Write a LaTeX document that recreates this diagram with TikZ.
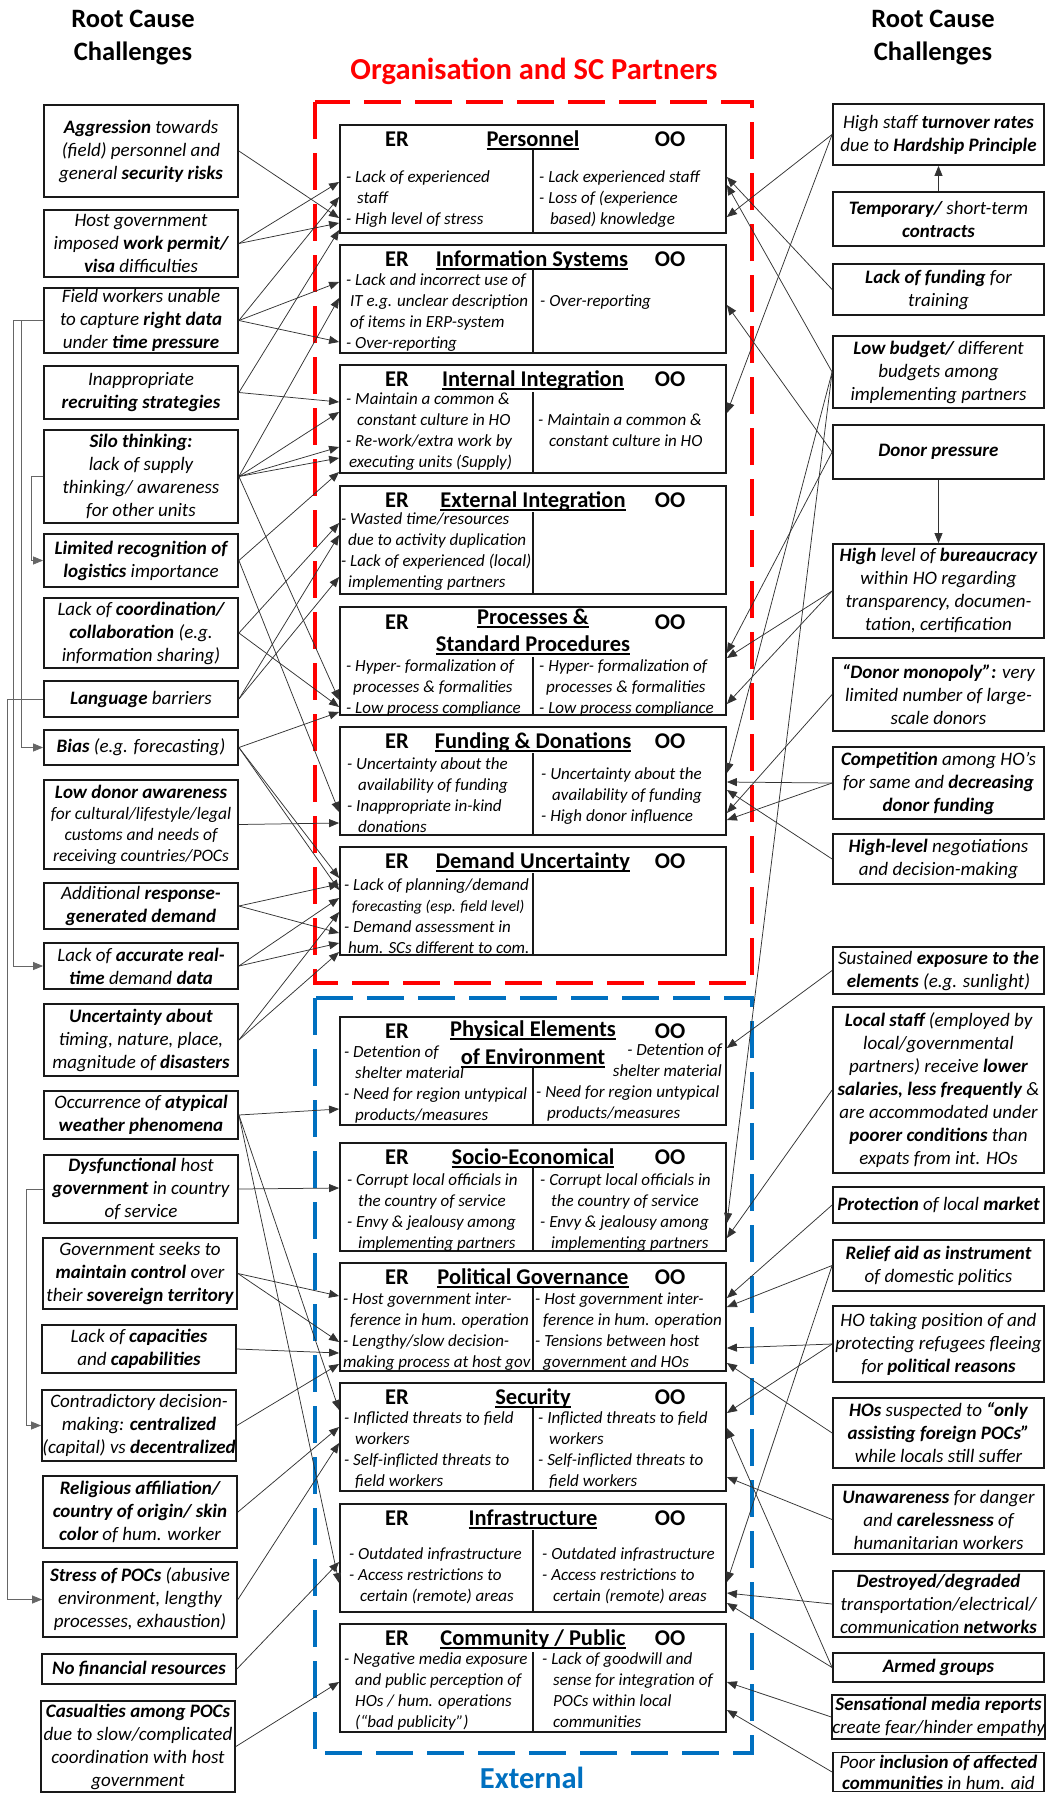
\documentclass[tikz,border=0pt]{standalone}
\usepackage{fontspec}
\setmainfont{Carlito}
\usetikzlibrary{arrows.meta}
\definecolor{orgred}{RGB}{255,0,0}
\definecolor{extblue}{RGB}{0,112,192}
% underlined heading with a fixed rule position
\newcommand\hdul[1]{\setbox0\hbox{#1}\rlap{\rule[-3.5pt]{\wd0}{1.6pt}}\box0}
\newcommand\ind{\hspace*{11pt}}
\newcommand\fs{\rule{0pt}{15pt}}
\begin{document}
\begin{tikzpicture}[x=1pt,y=-1pt,
  every node/.style={inner sep=0pt},
  rc/.style={draw=black!90, line width=1.8pt, align=center, font=\fontsize{19}{23}\selectfont\itshape},
  lb/.style={rc, minimum width=194pt},
  rb/.style={rc, minimum width=211pt},
  cbox/.style={draw=black!90, line width=1.8pt, minimum width=386pt, minimum height=108pt},
  hd/.style={font=\fontsize{22.5}{27}\selectfont\bfseries, anchor=base},
  ct/.style={font=\fontsize{17}{21}\selectfont\itshape, align=left, anchor=north west},
  divline/.style={draw=black!90, line width=1.1pt},
  arr/.style={draw=black!80, line width=0.75pt, -{Triangle[length=10pt,width=8pt]}},
  tree/.style={arr, draw=black!60},
  ttl/.style={font=\fontsize{26.5}{32}\selectfont\bfseries, anchor=base},
  zone/.style={line width=4pt, dash pattern=on 37pt off 14pt},
]
\useasboundingbox (0,0) rectangle (1048,1793);

% ---------- headings ----------
\node[ttl] (lt1) at (133,28) {Root Cause};
\node[ttl] (lt2) at (133,60) {Challenges};
\node[ttl] (rt1) at (933,28) {Root Cause};
\node[ttl] (rt2) at (933,60) {Challenges};
\node[ttl, font=\fontsize{30.5}{36}\selectfont\bfseries, text=orgred] (orgT) at (534,80) {Organisation and SC Partners};
\node[ttl, font=\fontsize{30.5}{36}\selectfont\bfseries, text=extblue] (extT) at (532,1788) {External};

% ---------- dashed zones ----------
\draw[zone, orgred] (315,102) rectangle (752,983);
\draw[zone, extblue] (315,998) rectangle (752,1753);

% ---------- central challenge boxes ----------
\node[cbox] (pers) at (533,179) {};
\node[cbox] (infos) at (533,299) {};
\node[cbox] (intint) at (533,419) {};
\node[cbox] (extint) at (533,540) {};
\node[cbox] (proc) at (533,661) {};
\node[cbox] (fund) at (533,781) {};
\node[cbox] (dem) at (533,901) {};
\node[cbox] (phys) at (533,1071) {};
\node[cbox] (socio) at (533,1197) {};
\node[cbox] (polit) at (533,1317) {};
\node[cbox] (secur) at (533,1437) {};
\node[cbox] (infra) at (533,1558) {};
\node[cbox] (commun) at (533,1678) {};

% column dividers
\draw[divline] (pers.south) -- (pers.south |- 0,149);
\draw[divline] (infos.south) -- (infos.south |- 0,270);
\draw[divline] (intint.south) -- (intint.south |- 0,392);
\draw[divline] (extint.south) -- (extint.south |- 0,512);
\draw[divline] (proc.south) -- (proc.south |- 0,657);
\draw[divline] (fund.south) -- (fund.south |- 0,753);
\draw[divline] (dem.south) -- (dem.south |- 0,873);
\draw[divline] (phys.south) -- (phys.south |- 0,1067);
\draw[divline] (socio.south) -- (socio.south |- 0,1168);
\draw[divline] (polit.south) -- (polit.south |- 0,1288);
\draw[divline] (secur.south) -- (secur.south |- 0,1408);
\draw[divline] (infra.south) -- (infra.south |- 0,1530);
\draw[divline] (commun.south) -- (commun.south |- 0,1652);

% box headings
\node[hd] (persER) at (397,146) {ER};
\node[hd] (persOO) at (670,146) {OO};
\node[hd] (persT) at (533,146) {\hdul{Personnel}};
\node[hd] (infosER) at (397,266) {ER};
\node[hd] (infosOO) at (670,266) {OO};
\node[hd] (infosT) at (532,266) {\hdul{Information Systems}};
\node[hd] (intintER) at (397,386) {ER};
\node[hd] (intintOO) at (670,386) {OO};
\node[hd] (intintT) at (533,386) {\hdul{Internal Integration}};
\node[hd] (extintER) at (397,507) {ER};
\node[hd] (extintOO) at (670,507) {OO};
\node[hd] (extintT) at (533,507) {\hdul{External Integration}};
\node[hd] (procER) at (397,629) {ER};
\node[hd] (procOO) at (670,629) {OO};
\node[hd] (procT1) at (533,624) {\hdul{Processes \&}};
\node[hd] (procT2) at (533,651) {\hdul{Standard Procedures}};
\node[hd] (fundER) at (397,748) {ER};
\node[hd] (fundOO) at (670,748) {OO};
\node[hd] (fundT) at (533,748) {\hdul{Funding \& Donations}};
\node[hd] (demER) at (397,868) {ER};
\node[hd] (demOO) at (670,868) {OO};
\node[hd] (demT) at (533,868) {\hdul{Demand Uncertainty}};
\node[hd] (physER) at (397,1038) {ER};
\node[hd] (physOO) at (670,1038) {OO};
\node[hd] (physT1) at (533,1036) {\hdul{Physical Elements}};
\node[hd] (physT2) at (533,1064) {\hdul{of Environment}};
\node[hd] (socioER) at (397,1164) {ER};
\node[hd] (socioOO) at (670,1164) {OO};
\node[hd] (socioT) at (533,1164) {\hdul{Socio-Economical}};
\node[hd] (politER) at (397,1284) {ER};
\node[hd] (politOO) at (670,1284) {OO};
\node[hd] (politT) at (533,1284) {\hdul{Political Governance}};
\node[hd] (securER) at (397,1404) {ER};
\node[hd] (securOO) at (670,1404) {OO};
\node[hd] (securT) at (533,1404) {\hdul{Security}};
\node[hd] (infraER) at (397,1525) {ER};
\node[hd] (infraOO) at (670,1525) {OO};
\node[hd] (infraT) at (533,1525) {\hdul{Infrastructure}};
\node[hd] (communER) at (397,1645) {ER};
\node[hd] (communOO) at (670,1645) {OO};
\node[hd] (communT) at (533,1645) {\hdul{Community / Public}};

% box contents
\node[ct] (persL) at (346,167) {\fs- Lack of experienced\\\ind staff\\- High level of stress};
\node[ct] (persR) at (539,167) {\fs- Lack experienced staff\\- Loss of (experience\\\ind based) knowledge};
\node[ct] (infosL) at (346,270) {\fs- Lack and incorrect use of\\\hspace*{4pt}IT e.g. unclear description\\\hspace*{4pt}of items in ERP-system\\- Over-reporting};
\node[ct] (infosR) at (540,291) {\fs- Over-reporting};
\node[ct] (intintL) at (346,389) {\fs- Maintain a common \&\\\ind constant culture in HO\\- Re-work/extra work by\\\hspace*{3pt}executing units (Supply)};
\node[ct] (intintR) at (538,410) {\fs- Maintain a common \&\\\ind constant culture in HO};
\node[ct] (extintL) at (341,509) {\fs- Wasted time/resources\\\hspace*{7pt}due to activity duplication\\- Lack of experienced (local)\\\hspace*{7pt}implementing partners};
\node[ct] (procL) at (346,656) {\fs- Hyper- formalization of\\\hspace*{7pt}processes \& formalities\\- Low process compliance};
\node[ct] (procR) at (539,656) {\fs- Hyper- formalization of\\\hspace*{7pt}processes \& formalities\\- Low process compliance};
\node[ct] (fundL) at (347,754) {\fs- Uncertainty about the\\\ind availability of funding\\- Inappropriate in-kind\\\ind donations};
\node[ct] (fundR) at (541,764) {\fs- Uncertainty about the\\\ind availability of funding\\- High donor influence};
\node[ct] (demL) at (344,875) {\fs- Lack of planning/demand\\\hspace*{8pt}{\fontsize{15.5}{21}\selectfont forecasting (esp. field level)}\\- Demand assessment in\\\hspace*{4pt}hum. SCs different to com.};
\node[ct] (physL) at (344,1042) {\fs- Detention of\\\ind shelter material\\- Need for region untypical\\\ind products/measures};
\node[ct, anchor=north east, align=right] (physRa) at (722,1040) {\fs- Detention of\\shelter material};
\node[ct] (physRb) at (536,1082) {\fs- Need for region untypical\\\ind products/measures};
\node[ct] (socioL) at (347,1170) {\fs- Corrupt local officials in\\\ind the country of service\\- Envy \& jealousy among\\\ind implementing partners};
\node[ct] (socioR) at (540,1170) {\fs- Corrupt local officials in\\\ind the country of service\\- Envy \& jealousy among\\\ind implementing partners};
\node[ct] (politL) at (343,1289) {\fs- Host government inter-\\\hspace*{7pt}ference in hum. operation\\- Lengthy/slow decision-\\making process at host gov};
\node[ct] (politR) at (535,1289) {\fs- Host government inter-\\\hspace*{8pt}ference in hum. operation\\- Tensions between host\\\hspace*{8pt}government and HOs};
\node[ct] (securL) at (344,1408) {\fs- Inflicted threats to field\\\ind workers\\- Self-inflicted threats to\\\ind field workers};
\node[ct] (securR) at (538,1408) {\fs- Inflicted threats to field\\\ind workers\\- Self-inflicted threats to\\\ind field workers};
\node[ct] (infraL) at (349,1544) {\fs- Outdated infrastructure\\- Access restrictions to\\\ind certain (remote) areas};
\node[ct] (infraR) at (542,1544) {\fs- Outdated infrastructure\\- Access restrictions to\\\ind certain (remote) areas};
\node[ct] (communL) at (344,1649) {\fs- Negative media exposure\\\ind and public perception of\\\ind HOs / hum. operations\\\ind (“bad publicity”)};
\node[ct] (communR) at (542,1649) {\fs- Lack of goodwill and\\\ind sense for integration of\\\ind POCs within local\\\ind communities};

% ---------- left root causes ----------
\node[lb, minimum height=92pt] (agg) at (141,151) {\textbf{Aggression} towards\\(field) personnel and\\general \textbf{security risks}};
\node[lb, minimum height=67pt] (hostgov) at (141,243.5) {Host government\\imposed \textbf{work permit/}\\\textbf{visa} difficulties};
\node[lb, minimum height=65pt] (field) at (141,320.5) {Field workers unable\\to capture \textbf{right data}\\under \textbf{time pressure}};
\node[lb, minimum height=53pt] (inapp) at (141,392.5) {Inappropriate\\\textbf{recruiting strategies}};
\node[lb, minimum height=93pt] (silo) at (141,476.5) {\textbf{Silo thinking:}\\lack of supply\\thinking/ awareness\\for other units};
\node[lb, minimum height=53pt] (limited) at (141,560.5) {\textbf{Limited recognition of}\\\textbf{logistics} importance};
\node[lb, minimum height=70pt] (coord) at (141,633) {Lack of \textbf{coordination/}\\\textbf{collaboration} (e.g.\\information sharing)};
\node[lb, minimum height=36pt] (lang) at (141,699) {\textbf{Language} barriers};
\node[lb, minimum height=35pt] (bias) at (141,747.5) {\textbf{Bias} (e.g. forecasting)};
\node[lb, minimum height=89pt, font=\fontsize{17.5}{21}\selectfont\itshape] (lowdon) at (141,824.5) {{\fontsize{19}{21}\selectfont\textbf{Low donor awareness}}\\for cultural/lifestyle/legal\\customs and needs of\\receiving countries/POCs};
\node[lb, minimum height=46pt] (addl) at (141,906) {Additional \textbf{response-}\\\textbf{generated demand}};
\node[lb, minimum height=46pt] (accur) at (141,966) {Lack of \textbf{accurate real-}\\\textbf{time} demand \textbf{data}};
\node[lb, minimum height=72pt] (uncert) at (141,1040) {\textbf{Uncertainty about}\\timing, nature, place,\\magnitude of \textbf{disasters}};
\node[lb, minimum height=48pt] (occur) at (141,1115) {Occurrence of \textbf{atypical}\\\textbf{weather phenomena}};
\node[lb, minimum height=68pt] (dysf) at (141,1189) {\textbf{Dysfunctional} host\\\textbf{government} in country\\of service};
\node[lb, minimum height=71pt] (gov) at (140,1273.5) {Government seeks to\\\textbf{maintain control} over\\their \textbf{sovereign territory}};
\node[lb, minimum height=48pt] (capac) at (139,1349) {Lack of \textbf{capacities}\\and \textbf{capabilities}};
\node[lb, minimum height=71pt] (contra) at (139,1425.5) {Contradictory decision-\\making: \textbf{centralized}\\(capital) vs \textbf{decentralized}};
\node[lb, minimum height=72pt] (relig) at (140,1512) {\textbf{Religious affiliation/}\\\textbf{country of origin/ skin}\\\textbf{color} of hum. worker};
\node[lb, minimum height=75pt] (stress) at (140,1599.5) {\textbf{Stress of POCs} (abusive\\environment, lengthy\\processes, exhaustion)};
\node[lb, minimum height=30pt] (nofin) at (139,1669) {\textbf{No financial resources}};
\node[lb, minimum height=91pt] (casual) at (138,1746.5) {\textbf{Casualties among POCs}\\due to slow/complicated\\coordination with host\\government};

% ---------- right root causes ----------
\node[rb, minimum height=61pt] (turn) at (938.5,134.5) {High staff \textbf{turnover rates}\\due to \textbf{Hardship Principle}};
\node[rb, minimum height=54pt] (temp) at (938.5,219) {\textbf{Temporary/} short-term\\\textbf{contracts}};
\node[rb, minimum height=51pt] (lfund) at (938.5,289.5) {\textbf{Lack of funding} for\\training};
\node[rb, minimum height=72pt] (lowbud) at (938.5,372) {\textbf{Low budget/} different\\budgets among\\implementing partners};
\node[rb, minimum height=54pt] (donor) at (938.5,452) {\textbf{Donor pressure}};
\node[rb, minimum height=94pt] (bureau) at (938.5,591) {\textbf{High} level of \textbf{bureaucracy}\\within HO regarding\\transparency, documen-\\tation, certification};
\node[rb, minimum height=73pt] (monop) at (938.5,694.5) {\textbf{“Donor monopoly”:} very\\limited number of large-\\scale donors};
\node[rb, minimum height=72pt] (compet) at (938.5,783) {\textbf{Competition} among HO’s\\for same and \textbf{decreasing}\\\textbf{donor funding}};
\node[rb, minimum height=50pt] (hilev) at (938.5,859) {\textbf{High-level} negotiations\\and decision-making};
\node[rb, minimum height=47pt] (expo) at (938.5,970.5) {Sustained \textbf{exposure to the}\\\textbf{elements} (e.g. sunlight)};
\node[rb, minimum height=166pt] (local) at (938.5,1090) {\textbf{Local staff} (employed by\\local/governmental\\partners) receive \textbf{lower}\\\textbf{salaries, less frequently} \&\\are accommodated under\\\textbf{poorer conditions} than\\expats from int. HOs};
\node[rb, minimum height=36pt] (protect) at (938.5,1205) {\textbf{Protection} of local \textbf{market}};
\node[rb, minimum height=51pt] (relief) at (938.5,1265.5) {\textbf{Relief aid as instrument}\\of domestic politics};
\node[rb, minimum height=76pt] (refug) at (938.5,1344) {HO taking position of and\\protecting refugees fleeing\\for \textbf{political reasons}};
\node[rb, minimum height=70pt] (susp) at (938.5,1433) {\textbf{HOs} suspected to \textbf{“only}\\\textbf{assisting foreign POCs”}\\while locals still suffer};
\node[rb, minimum height=69pt] (unaware) at (938.5,1519.5) {\textbf{Unawareness} for danger\\and \textbf{carelessness} of\\humanitarian workers};
\node[rb, minimum height=66pt] (destroy) at (938.5,1604) {\textbf{Destroyed/degraded}\\transportation/electrical/\\communication \textbf{networks}};
\node[rb, minimum height=29pt] (armed) at (938.5,1667.5) {\textbf{Armed groups}};
\node[rb, minimum height=44pt] (media) at (938.5,1717) {\textbf{Sensational media reports}\\create fear/hinder empathy};
\node[rb, minimum height=39pt, font=\fontsize{19}{21}\selectfont\itshape] (inclus) at (938.5,1772) {Poor \textbf{inclusion of affected}\\\textbf{communities} in hum. aid};

% ---------- links between root causes (left) ----------
\draw[tree] (silo.west) -- ++(-12,0) |- (limited.west);
\draw[tree] (field.west) -- ++(-22,0) |- (bias.west);
\draw[tree] (field.west) -- ++(-30,0) |- (accur.west);
\draw[tree] (lang.west) -- ++(-36,0) |- (stress.west);
\draw[tree] (dysf.west) -- ++(-17,0) |- (contra.west);

% ---------- links between root causes (right) ----------
\draw[arr] (temp.north) -- (turn.south);
\draw[arr] (donor.south) -- (bureau.north);

% ---------- left causes to challenges ----------
\draw[arr] (agg.east) -- (pers.west |- 0,218);
\draw[arr] (hostgov.east) -- (pers.west |- 0,182);
\draw[arr] (hostgov.east) -- (pers.west |- 0,223);
\draw[arr] (field.east) -- (pers.west |- 0,197);
\draw[arr] (field.east) -- (infos.west |- 0,282);
\draw[arr] (field.east) -- (infos.west |- 0,342);
\draw[arr] (inapp.east) -- (pers.west |- 0,230);
\draw[arr] (inapp.east) -- (intint.west |- 0,402);
\draw[arr] (silo.east) -- (infos.west |- 0,298);
\draw[arr] (silo.east) -- (intint.west |- 0,412);
\draw[arr] (silo.east) -- (intint.west |- 0,447);
\draw[arr] (silo.east) -- (intint.west |- 0,458);
\draw[arr] (silo.east) -- (proc.west |- 0,700);
\draw[arr] (limited.east) -- (intint.west |- 0,472);
\draw[arr] (limited.east) -- (fund.west |- 0,812);
\draw[arr] (coord.east) -- (extint.west |- 0,523);
\draw[arr] (coord.east) -- (proc.west |- 0,707);
\draw[arr] (lang.east) -- (extint.west |- 0,535);
\draw[arr] (lang.east) -- (extint.west |- 0,577);
\draw[arr] (bias.east) -- (proc.west |- 0,712);
\draw[arr] (bias.east) -- (dem.west |- 0,878);
\draw[arr] (bias.east) -- (dem.west |- 0,890);
\draw[arr] (lowdon.east) -- (fund.west |- 0,823);
\draw[arr] (addl.east) -- (dem.west |- 0,884);
\draw[arr] (addl.east) -- (dem.west |- 0,933);
\draw[arr] (accur.east) -- (dem.west |- 0,898);
\draw[arr] (accur.east) -- (dem.west |- 0,943);
\draw[arr] (uncert.east) -- (dem.west |- 0,912);
\draw[arr] (uncert.east) -- (dem.west |- 0,952);
\draw[arr] (occur.east) -- (phys.west |- 0,1109);
\draw[arr] (occur.east) -- (secur.west |- 0,1410);
\draw[arr] (occur.east) -- (infra.west |- 0,1583);
\draw[arr] (dysf.east) -- (socio.west |- 0,1188);
\draw[arr] (gov.east) -- (polit.west |- 0,1296);
\draw[arr] (gov.east) -- (polit.west |- 0,1342);
\draw[arr] (capac.east) -- (polit.west |- 0,1353);
\draw[arr] (contra.east) -- (polit.west |- 0,1364);
\draw[arr] (relig.east) -- (secur.west |- 0,1427);
\draw[arr] (stress.east) -- (secur.west |- 0,1443);
\draw[arr] (nofin.east) -- (infra.west |- 0,1562);
\draw[arr] (casual.east) -- (commun.west |- 0,1682);

% ---------- right causes to challenges ----------
\draw[arr] (turn.west) -- (pers.east |- 0,217);
\draw[arr] (turn.west) -- (intint.east |- 0,413);
\draw[arr] (lfund.west) -- (pers.east |- 0,177);
\draw[arr] (lowbud.west) -- (pers.east |- 0,185);
\draw[arr] (lowbud.west) -- (fund.east |- 0,773);
\draw[arr] (lowbud.west) -- (socio.east |- 0,1223);
\draw[arr] (donor.west) -- (infos.east |- 0,305);
\draw[arr] (donor.west) -- (proc.east |- 0,653);
\draw[arr] (bureau.west) -- (proc.east |- 0,658);
\draw[arr] (bureau.west) -- (proc.east |- 0,704);
\draw[arr] (monop.west) -- (fund.east |- 0,813);
\draw[arr] (compet.west) -- (fund.east |- 0,782);
\draw[arr] (compet.west) -- (fund.east |- 0,820);
\draw[arr] (hilev.west) -- (fund.east |- 0,790);
\draw[arr] (expo.west) -- (phys.east |- 0,1048);
\draw[arr] (local.west) -- (socio.east |- 0,1238);
\draw[arr] (protect.west) -- (polit.east |- 0,1298);
\draw[arr] (relief.west) -- (polit.east |- 0,1307);
\draw[arr] (relief.west) -- (infra.east |- 0,1582);
\draw[arr] (refug.west) -- (polit.east |- 0,1348);
\draw[arr] (refug.west) -- (secur.east |- 0,1413);
\draw[arr] (susp.west) -- (polit.east |- 0,1363);
\draw[arr] (unaware.west) -- (secur.east |- 0,1477);
\draw[arr] (destroy.west) -- (infra.east |- 0,1593);
\draw[arr] (armed.west) -- (secur.east |- 0,1428);
\draw[arr] (armed.west) -- (infra.east |- 0,1603);
\draw[arr] (media.west) -- (commun.east |- 0,1682);
\draw[arr] (inclus.west) -- (commun.east |- 0,1710);
\end{tikzpicture}
\end{document}
